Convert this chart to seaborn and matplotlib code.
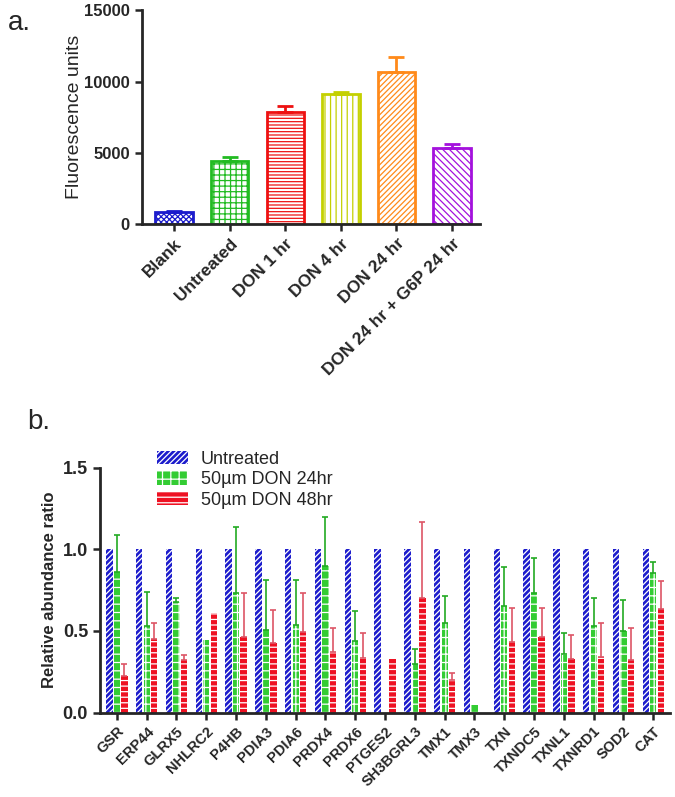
import matplotlib
matplotlib.use("Agg")
import matplotlib.pyplot as plt
from matplotlib.patches import Patch
import numpy as np
import pandas as pd
import seaborn as sns

# Panel a: fluorescence per condition
condicoes = ['Blank', 'Untreated', 'DON 1 hr', 'DON 4 hr', 'DON 24 hr', 'DON 24 hr + G6P 24 hr']
fluor = [850, 4400, 7850, 9100, 10650, 5350]
fluor_err = [70, 300, 450, 150, 1100, 280]
cores_a = ['#1c1ccc', '#22bb22', '#ee1111', '#c4d000', '#ff8a1a', '#a411dd']
hatches_a = ['xxxxxx', '+++', '-----', '|||', '//////', '\\\\\\\\\\']

# Panel b: relative abundance per protein
genes = ['GSR', 'ERP44', 'GLRX5', 'NHLRC2', 'P4HB', 'PDIA3', 'PDIA6', 'PRDX4', 'PRDX6', 'PTGES2',
         'SH3BGRL3', 'TMX1', 'TMX3', 'TXN', 'TXNDC5', 'TXNL1', 'TXNRD1', 'SOD2', 'CAT']
untreated = [1.0, 1.0, 1.0, 1.0, 1.0, 1.0, 1.0, 1.0, 1.0, 1.0,
             1.0, 1.0, 1.0, 1.0, 1.0, 1.0, 1.0, 1.0, 1.0]
don24 = [0.86, 0.53, 0.68, 0.445, 0.735, 0.505, 0.535, 0.90, 0.44, 0.0,
         0.30, 0.55, 0.047, 0.65, 0.73, 0.357, 0.53, 0.50, 0.853]
don24_err = [0.23, 0.21, 0.02, 0.0, 0.40, 0.31, 0.275, 0.30, 0.18, 0.0,
             0.09, 0.165, 0.0, 0.24, 0.22, 0.13, 0.17, 0.19, 0.07]
don48 = [0.225, 0.45, 0.32, 0.61, 0.46, 0.425, 0.495, 0.373, 0.333, 0.327,
         0.70, 0.20, 0.0, 0.43, 0.46, 0.327, 0.343, 0.322, 0.633]
don48_err = [0.075, 0.10, 0.03, 0.0, 0.27, 0.205, 0.235, 0.147, 0.157, 0.0,
             0.465, 0.04, 0.0, 0.21, 0.18, 0.148, 0.204, 0.198, 0.173]
series_b = ['Untreated', '50\u00b5m DON 24hr', '50\u00b5m DON 48hr']
cores_b = ['#1c1ccc', '#33cc33', '#ee1122']
hatches_b = ['//////', '++', '---']
cores_err_b = [None, '#22aa22', '#dd5566']

sns.set_style('ticks')
plt.rcParams['font.family'] = ['Liberation Sans', 'DejaVu Sans']
plt.rcParams['hatch.linewidth'] = 0.9

fig = plt.figure(figsize=(6.75, 7.97), dpi=100)

# ---------------- Panel a ----------------
ax1 = fig.add_axes([0.210, 0.719, 0.501, 0.268])
df_a = pd.DataFrame({'cond': condicoes, 'valor': fluor})
sns.barplot(data=df_a, x='cond', y='valor', hue='cond', palette=cores_a,
            width=0.67, legend=False, errorbar=None, ax=ax1)
for barra, cor, hc in zip(ax1.patches, cores_a, hatches_a):
    barra.set_facecolor('white')
    barra.set_edgecolor(cor)
    barra.set_hatch(hc)
    barra.set_linewidth(2.0)
for i, (v, e, cor) in enumerate(zip(fluor, fluor_err, cores_a)):
    ax1.errorbar(i, v, yerr=[[0], [e]], color=cor, capsize=6, capthick=2, elinewidth=2)
ax1.set_ylim(0, 15000)
ax1.set_xlim(-0.58, 5.5)
ax1.set_yticks([0, 5000, 10000, 15000])
ax1.set_xlabel('')
ax1.set_ylabel('Fluorescence units', fontsize=14, labelpad=1)
sns.despine(ax=ax1)
for s in ['left', 'bottom']:
    ax1.spines[s].set_linewidth(2)
ax1.tick_params(width=1.8, length=5, labelsize=12)
for t in ax1.get_yticklabels():
    t.set_fontweight('bold')
ax1.set_xticks(range(len(condicoes)))
ax1.set_xticklabels(condicoes, rotation=45, ha='right', rotation_mode='anchor',
                    fontweight='bold', fontsize=12.5)
fig.text(0.012, 0.962, 'a.', fontsize=20)

# ---------------- Panel b ----------------
ax2 = fig.add_axes([0.148, 0.106, 0.845, 0.307])
df_b = pd.DataFrame({
    'gene': genes * 3,
    'grupo': [series_b[0]] * len(genes) + [series_b[1]] * len(genes) + [series_b[2]] * len(genes),
    'valor': untreated + don24 + don48,
})
sns.barplot(data=df_b, x='gene', y='valor', hue='grupo', hue_order=series_b,
            palette=cores_b, width=0.75, gap=0.15, legend=False, errorbar=None, ax=ax2)
erros = [None, don24_err, don48_err]
valores = [untreated, don24, don48]
containers = list(ax2.containers)[:3]
for k, cont in enumerate(containers):
    xs = []
    for barra in cont:
        barra.set_facecolor(cores_b[k])
        barra.set_edgecolor('white')
        barra.set_hatch(hatches_b[k])
        barra.set_linewidth(0)
        xs.append(barra.get_x() + barra.get_width() / 2)
    if erros[k] is not None:
        xs = np.array(xs)
        err = np.array(erros[k])
        val = np.array(valores[k])
        m = err > 0
        ax2.errorbar(xs[m], val[m], yerr=[np.zeros(m.sum()), err[m]], fmt='none',
                     ecolor=cores_err_b[k], elinewidth=1.2, capsize=2, capthick=1.2)
ax2.set_ylim(0, 1.5)
ax2.set_xlim(-0.57, 18.57)
ax2.set_yticks([0.0, 0.5, 1.0, 1.5])
ax2.set_yticklabels(['0.0', '0.5', '1.0', '1.5'], fontweight='bold', fontsize=13)
ax2.set_xlabel('')
ax2.set_ylabel('Relative abundance ratio', fontsize=12, fontweight='bold')
sns.despine(ax=ax2)
for s in ['left', 'bottom']:
    ax2.spines[s].set_linewidth(2)
ax2.tick_params(width=1.8, length=5)
ax2.set_xticks(range(len(genes)))
ax2.set_xticklabels(genes, rotation=45, ha='right', rotation_mode='anchor',
                    fontweight='bold', fontsize=10.5)

handles = [Patch(facecolor=c, edgecolor='white', hatch=h, linewidth=0)
           for c, h in zip(cores_b, hatches_b)]
fig.legend(handles, series_b, loc='upper left', bbox_to_anchor=(0.209, 0.455),
           frameon=False, fontsize=13, handlelength=1.7, handleheight=0.75,
           labelspacing=0.2, handletextpad=0.7)
fig.text(0.04, 0.462, 'b.', fontsize=20)

fig.savefig('out.png', dpi=100)
